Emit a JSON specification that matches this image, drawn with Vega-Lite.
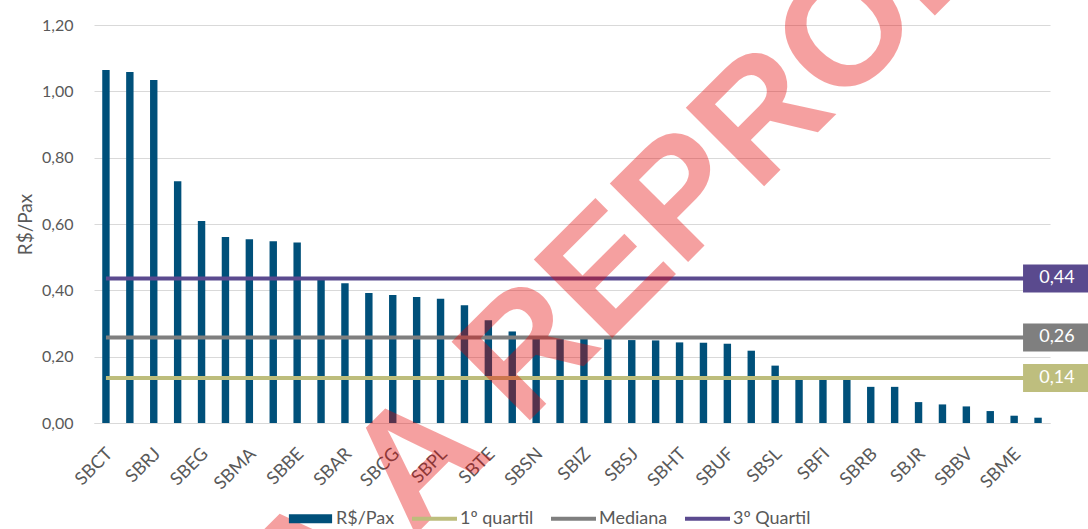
{
  "$schema": "https://vega.github.io/schema/vega-lite/v6.json",
  "width": 956,
  "height": 398,
  "autosize": {"type": "none"},
  "padding": {"left": 94, "top": 25, "right": 38, "bottom": 106},
  "background": "white",
  "config": {
    "view": {"stroke": null},
    "font": "Lato",
    "axis": {"labelFont": "Lato", "titleFont": "Lato"}
  },
  "datasets": {
    "barras": [
      {"aeroporto": "SBCT", "valor": 1.064, "serie": "R$/Pax"},
      {"aeroporto": "SBGL", "valor": 1.058, "serie": "R$/Pax"},
      {"aeroporto": "SBRJ", "valor": 1.034, "serie": "R$/Pax"},
      {"aeroporto": "SBSP", "valor": 0.729, "serie": "R$/Pax"},
      {"aeroporto": "SBEG", "valor": 0.609, "serie": "R$/Pax"},
      {"aeroporto": "SBPA", "valor": 0.561, "serie": "R$/Pax"},
      {"aeroporto": "SBMA", "valor": 0.554, "serie": "R$/Pax"},
      {"aeroporto": "SBSV", "valor": 0.548, "serie": "R$/Pax"},
      {"aeroporto": "SBBE", "valor": 0.544, "serie": "R$/Pax"},
      {"aeroporto": "SBRF", "valor": 0.432, "serie": "R$/Pax"},
      {"aeroporto": "SBAR", "valor": 0.421, "serie": "R$/Pax"},
      {"aeroporto": "SBFZ", "valor": 0.392, "serie": "R$/Pax"},
      {"aeroporto": "SBCG", "valor": 0.386, "serie": "R$/Pax"},
      {"aeroporto": "SBKP", "valor": 0.380, "serie": "R$/Pax"},
      {"aeroporto": "SBPL", "valor": 0.375, "serie": "R$/Pax"},
      {"aeroporto": "SBCF", "valor": 0.355, "serie": "R$/Pax"},
      {"aeroporto": "SBTE", "valor": 0.310, "serie": "R$/Pax"},
      {"aeroporto": "SBGO", "valor": 0.276, "serie": "R$/Pax"},
      {"aeroporto": "SBSN", "valor": 0.262, "serie": "R$/Pax"},
      {"aeroporto": "SBCY", "valor": 0.258, "serie": "R$/Pax"},
      {"aeroporto": "SBIZ", "valor": 0.256, "serie": "R$/Pax"},
      {"aeroporto": "SBFL", "valor": 0.254, "serie": "R$/Pax"},
      {"aeroporto": "SBSJ", "valor": 0.250, "serie": "R$/Pax"},
      {"aeroporto": "SBNT", "valor": 0.249, "serie": "R$/Pax"},
      {"aeroporto": "SBHT", "valor": 0.243, "serie": "R$/Pax"},
      {"aeroporto": "SBMO", "valor": 0.242, "serie": "R$/Pax"},
      {"aeroporto": "SBUF", "valor": 0.239, "serie": "R$/Pax"},
      {"aeroporto": "SBJP", "valor": 0.218, "serie": "R$/Pax"},
      {"aeroporto": "SBSL", "valor": 0.173, "serie": "R$/Pax"},
      {"aeroporto": "SBVT", "valor": 0.131, "serie": "R$/Pax"},
      {"aeroporto": "SBFI", "valor": 0.131, "serie": "R$/Pax"},
      {"aeroporto": "SBPV", "valor": 0.130, "serie": "R$/Pax"},
      {"aeroporto": "SBRB", "valor": 0.109, "serie": "R$/Pax"},
      {"aeroporto": "SBMQ", "valor": 0.109, "serie": "R$/Pax"},
      {"aeroporto": "SBJR", "valor": 0.063, "serie": "R$/Pax"},
      {"aeroporto": "SBPJ", "valor": 0.056, "serie": "R$/Pax"},
      {"aeroporto": "SBBV", "valor": 0.050, "serie": "R$/Pax"},
      {"aeroporto": "SBCZ", "valor": 0.036, "serie": "R$/Pax"},
      {"aeroporto": "SBME", "valor": 0.022, "serie": "R$/Pax"},
      {"aeroporto": "SBJU", "valor": 0.016, "serie": "R$/Pax"}
    ],
    "quartis": [
      {"serie": "1º quartil", "valor": 0.136, "rotulo": "0,14"},
      {"serie": "Mediana", "valor": 0.258, "rotulo": "0,26"},
      {"serie": "3º Quartil", "valor": 0.436, "rotulo": "0,44"}
    ],
    "marca": [
      {"texto": "PROIBIDA A REPRODUÇÃO"}
    ]
  },
  "layer": [
    {
      "data": {"name": "barras"},
      "mark": {"type": "bar"},
      "encoding": {
        "x": {
          "field": "aeroporto",
          "type": "nominal",
          "sort": null,
          "scale": {"paddingInner": 0.69, "paddingOuter": 0.345},
          "axis": {
            "title": null,
            "values": ["SBCT", "SBRJ", "SBEG", "SBMA", "SBBE", "SBAR", "SBCG", "SBPL", "SBTE", "SBSN", "SBIZ", "SBSJ", "SBHT", "SBUF", "SBSL", "SBFI", "SBRB", "SBJR", "SBBV", "SBME"],
            "labelAngle": -45,
            "labelAlign": "right",
            "labelBaseline": "middle",
            "labelFontSize": 18,
            "labelColor": "#595959",
            "labelPadding": 28,
            "labelOffset": 4,
            "ticks": false,
            "domain": true,
            "domainColor": "#D9D9D9",
            "grid": false
          }
        },
        "y": {
          "field": "valor",
          "type": "quantitative",
          "scale": {"domain": [0, 1.2], "nice": false},
          "axis": {
            "values": [0, 0.2, 0.4, 0.6, 0.8, 1.0, 1.2],
            "labelExpr": "replace(format(datum.value, '.2f'), '.', ',')",
            "title": "R$/Pax",
            "titleFontSize": 19,
            "titleFontWeight": "normal",
            "titleColor": "#595959",
            "titlePadding": 6,
            "labelFontSize": 16,
            "labelColor": "#595959",
            "labelPadding": 21,
            "ticks": false,
            "domain": false,
            "grid": true,
            "gridColor": "#D9D9D9",
            "gridWidth": 1
          }
        },
        "color": {
          "field": "serie",
          "type": "nominal",
          "scale": {
            "domain": ["R$/Pax", "1º quartil", "Mediana", "3º Quartil"],
            "range": ["#00507A", "#BDBD7C", "#7F7F7F", "#5B4A8F"]
          },
          "legend": {
            "orient": "none",
            "legendX": 194,
            "legendY": 471,
            "direction": "horizontal",
            "title": null,
            "padding": 0,
            "labelFont": "Lato",
            "labelFontSize": 18,
            "labelColor": "#595959",
            "labelLimit": 200,
            "symbolSize": 2025,
            "labelOffset": 3,
            "columnPadding": 17,
            "encode": {
              "symbols": {
                "update": {
                  "shape": {"signal": "datum.value === 'R$/Pax' ? 'M-0.96,-0.2L0.96,-0.2L0.96,0.2L-0.96,0.2Z' : 'M-1,-0.09L1,-0.09L1,0.09L-1,0.09Z'"},
                  "fill": {"scale": "color", "field": "value"},
                  "stroke": {"value": "transparent"},
                  "strokeWidth": {"value": 0},
                  "opacity": {"value": 1}
                }
              }
            }
          }
        }
      }
    },
    {
      "data": {"name": "quartis"},
      "mark": {"type": "rule", "strokeWidth": 4},
      "encoding": {
        "x": {"datum": "SBCT", "type": "nominal"},
        "x2": {"datum": "SBJU"},
        "y": {"field": "valor", "type": "quantitative"},
        "color": {"field": "serie", "type": "nominal"}
      }
    },
    {
      "data": {"name": "quartis"},
      "mark": {
        "type": "point",
        "shape": "M-1,-0.4242L1,-0.4242L1,0.4242L-1,0.4242Z",
        "size": 4356,
        "filled": true,
        "opacity": 1,
        "xOffset": 18
      },
      "encoding": {
        "x": {"datum": "SBJU", "type": "nominal"},
        "y": {"field": "valor", "type": "quantitative"},
        "fill": {
          "field": "serie",
          "type": "nominal",
          "scale": {
            "domain": ["R$/Pax", "1º quartil", "Mediana", "3º Quartil"],
            "range": ["#00507A", "#BEBE7E", "#7F7F7F", "#5A4A8E"]
          },
          "legend": null
        }
      }
    },
    {
      "data": {"name": "quartis"},
      "mark": {
        "type": "text",
        "color": "white",
        "font": "Lato",
        "fontSize": 18,
        "align": "center",
        "baseline": "middle",
        "xOffset": 19
      },
      "encoding": {
        "x": {"datum": "SBJU", "type": "nominal"},
        "y": {"field": "valor", "type": "quantitative"},
        "text": {"field": "rotulo", "type": "nominal"}
      }
    },
    {
      "data": {"name": "marca"},
      "mark": {
        "type": "text",
        "angle": -45,
        "align": "center",
        "baseline": "alphabetic",
        "dx": -27,
        "font": "Liberation Sans",
        "fontWeight": "bold",
        "fontSize": 161,
        "color": "#E60000",
        "opacity": 0.37
      },
      "encoding": {
        "x": {"datum": "SBFL", "type": "nominal"},
        "y": {"datum": 0.2435, "type": "quantitative"},
        "text": {"field": "texto", "type": "nominal"}
      }
    }
  ]
}
